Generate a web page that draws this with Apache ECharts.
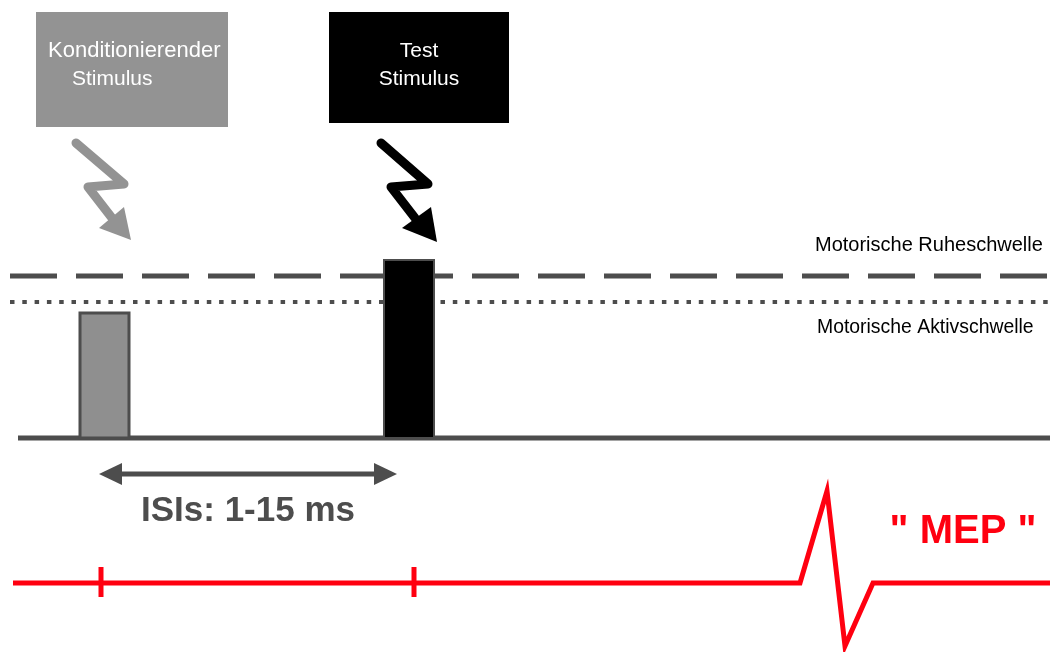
<!DOCTYPE html>
<html>
<head>
<meta charset="utf-8">
<script src="https://cdn.jsdelivr.net/npm/echarts@6/dist/echarts.min.js"></script>
<style>
  html, body { margin: 0; padding: 0; background: #fff; }
  #main { width: 1050px; height: 652px; }
</style>
</head>
<body>
<div id="main"></div>
<script>
// Zeichnungseinheiten: x nach rechts, y nach unten (Achse invertiert)

// Stimulus-Kästen oben
var boxLeft = [36, 329];
var boxRight = [228, 509];
var boxTop = [12, 12];
var boxBottom = [127, 123];
var boxColors = ['#939393', '#000000'];

// Beschriftung der Kästen
var boxTexts = ['Konditionierender', 'Stimulus', 'Test', 'Stimulus'];
var boxTextX = [48, 72, 419, 419];
var boxTextY = [51, 79, 51, 79];
var boxTextAlign = ['left', 'left', 'center', 'center'];
var boxTextSize = [22, 21, 21, 21];

// Blitze (Zickzack + Pfeilspitze)
var boltPaths = [
  [[76, 143], [124, 184], [88, 187], [112, 218]],
  [[381, 143], [428, 184], [391, 187], [415, 218]]
];
var boltHeads = [
  [[99, 228], [124, 207], [131, 240]],
  [[402, 228], [431, 207], [437, 242]]
];
var boltColors = ['#939393', '#000000'];

// Schwellen
var thresholdX = [10, 1050];
var ruheY = 276;
var aktivY = 302;
var thresholdLabels = ['Motorische Ruheschwelle', 'Motorische Aktivschwelle'];
var labelX = [815, 817];
var labelY = [245, 328];
var labelSize = [20, 19.4];

// Reize (Balken) und Grundlinie
var pulseLeft = [80, 384];
var pulseRight = [129, 434];
var pulseTop = [313, 260];
var pulseColors = ['#8f8f8f', '#000000'];
var baselineX = [18, 1050];
var baselineY = 438;

// ISI-Doppelpfeil
var isiX = [99, 397];
var isiY = 474;
var isiText = 'ISIs: 1-15 ms';
var isiTextPos = [248, 511];

// EMG-Spur mit MEP
var traceX = [13, 800, 827, 845, 873, 1050];
var traceY = [583, 583, 491, 646, 583, 583];
var tickX = [101, 414];
var tickY = [567, 597];
var mepText = '" MEP "';
var mepTextPos = [963, 532];

var FONT = '"Liberation Sans", Arial, sans-serif';
var GRAY = '#4d4d4d';
var RED = '#ff0010';

function seg(x0, x1, y) { return [[x0, y], [x1, y]]; }

var myChart = echarts.init(document.getElementById('main'));

var option = {
  animation: false,
  backgroundColor: '#fff',
  grid: { left: 0, right: 0, top: 0, bottom: 0 },
  xAxis: { type: 'value', min: 0, max: 1050, show: false },
  yAxis: { type: 'value', min: 0, max: 652, inverse: true, show: false },
  series: [
    // Kästen
    {
      type: 'custom', z: 2, silent: true,
      data: boxLeft.map(function (x, i) { return [boxLeft[i], boxTop[i], boxRight[i], boxBottom[i]]; }),
      renderItem: function (params, api) {
        var p0 = api.coord([api.value(0), api.value(1)]);
        var p1 = api.coord([api.value(2), api.value(3)]);
        return {
          type: 'rect',
          shape: { x: p0[0], y: p0[1], width: p1[0] - p0[0], height: p1[1] - p0[1] },
          style: { fill: boxColors[params.dataIndex] }
        };
      }
    },
    // Kastentexte
    {
      type: 'custom', z: 3, silent: true,
      data: boxTextX.map(function (x, i) { return [boxTextX[i], boxTextY[i]]; }),
      renderItem: function (params, api) {
        var p = api.coord([api.value(0), api.value(1)]);
        return {
          type: 'text', x: p[0], y: p[1],
          style: {
            text: boxTexts[params.dataIndex], fill: '#fff',
            fontSize: boxTextSize[params.dataIndex], fontFamily: FONT,
            align: boxTextAlign[params.dataIndex], verticalAlign: 'middle'
          }
        };
      }
    },
    // Blitze
    {
      type: 'custom', z: 3, silent: true,
      data: boltPaths.map(function (p) { return p[0]; }),
      renderItem: function (params, api) {
        var i = params.dataIndex;
        var pts = boltPaths[i].map(function (p) { return api.coord(p); });
        var head = boltHeads[i].map(function (p) { return api.coord(p); });
        return {
          type: 'group',
          children: [
            { type: 'polyline', shape: { points: pts },
              style: { stroke: boltColors[i], lineWidth: 9, fill: null, lineJoin: 'round', lineCap: 'round' } },
            { type: 'polygon', shape: { points: head }, style: { fill: boltColors[i] } }
          ]
        };
      }
    },
    // Ruheschwelle (gestrichelt)
    {
      type: 'line', z: 2, silent: true, symbol: 'none',
      data: seg(thresholdX[0], thresholdX[1], ruheY),
      lineStyle: { color: GRAY, width: 5, type: [47, 19], cap: 'butt' }
    },
    // Aktivschwelle (gepunktet)
    {
      type: 'line', z: 2, silent: true, symbol: 'none',
      data: seg(thresholdX[0], thresholdX[1], aktivY),
      lineStyle: { color: GRAY, width: 4, type: [4.5, 7.8], cap: 'butt' }
    },
    // Grundlinie
    {
      type: 'line', z: 2, silent: true, symbol: 'none',
      data: seg(baselineX[0], baselineX[1], baselineY),
      lineStyle: { color: GRAY, width: 5, type: 'solid' }
    },
    // Reize
    {
      type: 'custom', z: 4, silent: true,
      data: pulseLeft.map(function (x, i) { return [pulseLeft[i], pulseTop[i], pulseRight[i], baselineY]; }),
      renderItem: function (params, api) {
        var p0 = api.coord([api.value(0), api.value(1)]);
        var p1 = api.coord([api.value(2), api.value(3)]);
        return {
          type: 'rect',
          shape: { x: p0[0], y: p0[1], width: p1[0] - p0[0], height: p1[1] - p0[1] },
          style: { fill: pulseColors[params.dataIndex], stroke: GRAY, lineWidth: params.dataIndex === 0 ? 3 : 2 }
        };
      }
    },
    // Schwellen-Beschriftung
    {
      type: 'custom', z: 3, silent: true,
      data: labelX.map(function (x, i) { return [labelX[i], labelY[i]]; }),
      renderItem: function (params, api) {
        var p = api.coord([api.value(0), api.value(1)]);
        return {
          type: 'text', x: p[0], y: p[1],
          style: {
            text: thresholdLabels[params.dataIndex], fill: '#000',
            fontSize: labelSize[params.dataIndex], fontFamily: FONT, align: 'left', verticalAlign: 'middle'
          }
        };
      }
    },
    // ISI-Pfeil und Text
    {
      type: 'custom', z: 3, silent: true,
      data: [[isiX[0], isiY]],
      renderItem: function (params, api) {
        var a = api.coord([isiX[0], isiY]);
        var b = api.coord([isiX[1], isiY]);
        var t = api.coord(isiTextPos);
        var hl = 23, hw = 11;
        return {
          type: 'group',
          children: [
            { type: 'line', shape: { x1: a[0] + hl - 2, y1: a[1], x2: b[0] - hl + 2, y2: b[1] },
              style: { stroke: GRAY, lineWidth: 5 } },
            { type: 'polygon', shape: { points: [[a[0], a[1]], [a[0] + hl, a[1] - hw], [a[0] + hl, a[1] + hw]] },
              style: { fill: GRAY } },
            { type: 'polygon', shape: { points: [[b[0], b[1]], [b[0] - hl, b[1] - hw], [b[0] - hl, b[1] + hw]] },
              style: { fill: GRAY } },
            { type: 'text', x: t[0], y: t[1],
              style: { text: isiText, fill: GRAY, fontSize: 35, fontWeight: 'bold', fontFamily: FONT,
                       align: 'center', verticalAlign: 'middle' } }
          ]
        };
      }
    },
    // EMG-Spur
    {
      type: 'line', z: 2, silent: true, symbol: 'none',
      data: traceX.map(function (x, i) { return [traceX[i], traceY[i]]; }),
      lineStyle: { color: RED, width: 5, join: 'miter' }
    },
    // Markierungen + MEP-Text
    {
      type: 'custom', z: 3, silent: true,
      data: tickX.map(function (x) { return [x, tickY[0]]; }),
      renderItem: function (params, api) {
        var p0 = api.coord([api.value(0), tickY[0]]);
        var p1 = api.coord([api.value(0), tickY[1]]);
        var children = [
          { type: 'line', shape: { x1: p0[0], y1: p0[1], x2: p1[0], y2: p1[1] },
            style: { stroke: RED, lineWidth: 5 } }
        ];
        if (params.dataIndex === 0) {
          var t = api.coord(mepTextPos);
          children.push({ type: 'text', x: t[0], y: t[1],
            style: { text: mepText, fill: RED, fontSize: 40, fontWeight: 'bold', fontFamily: FONT,
                     align: 'center', verticalAlign: 'middle' } });
        }
        return { type: 'group', children: children };
      }
    }
  ]
};

myChart.setOption(option);
</script>
</body>
</html>
